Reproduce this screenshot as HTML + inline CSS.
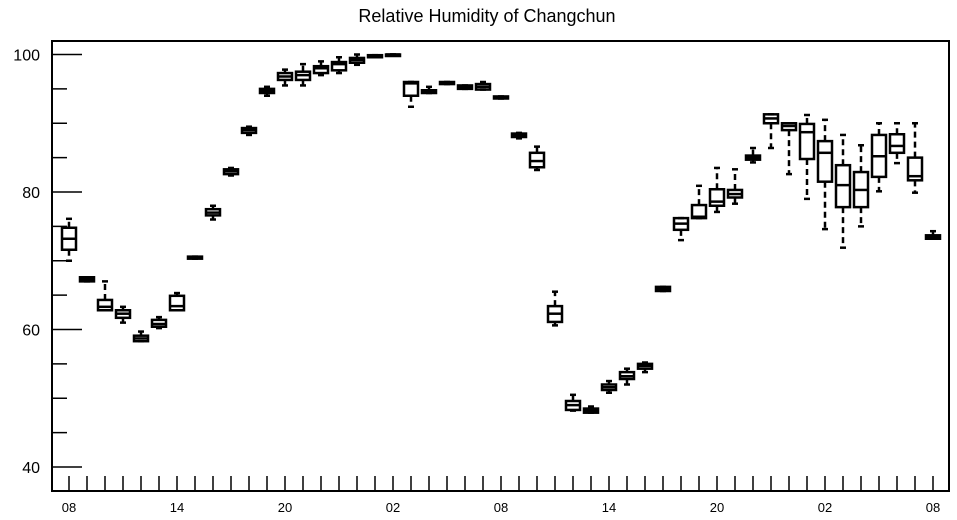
<!DOCTYPE html>
<html><head><meta charset="utf-8"><style>
body{margin:0;background:#fff;}
svg{display:block;font-family:"Liberation Sans",sans-serif;}
</style></head><body>
<svg id="chart" width="957" height="520">
<text x="487" y="22" text-anchor="middle" font-size="18">Relative Humidity of Changchun</text>
<rect x="52" y="41" width="897" height="450" fill="none" stroke="#000" stroke-width="2"/>
<g id="axes"></g><g id="boxes"></g>
</svg>
<script>
const xLabels=["08","14","20","02","08","14","20","02","08"];
const yTicks=[40,60,80,100];
const lo =[70,67,62.8,61,58.3,60.2,62.8,70.3,76,82.4,88.3,94,95.5,95.5,97,97.3,98.5,99.6,100,92.4,94.4,95.7,95,94.9,93.6,87.8,83.2,60.6,48.2,47.9,50.8,52,53.8,65.6,73,76.2,77.1,78.3,84.3,86.4,82.6,79,74.6,71.9,75,80.1,84.2,79.9,73.2];
const q1 =[71.6,67,62.8,61.7,58.3,60.4,62.8,70.3,76.6,82.6,88.6,94.4,96.3,96.3,97.3,97.7,98.8,99.6,100,94,94.4,95.7,95,94.9,93.6,88,83.6,61.1,48.3,47.9,51.2,52.8,54.3,65.6,74.5,76.2,78,79.2,84.7,90,89,84.8,81.5,77.8,77.8,82.2,85.7,81.7,73.2];
const med=[73.2,67.3,63.3,62.3,58.7,60.8,63.4,70.5,77,83,89,94.7,96.8,97,98,98.6,99.2,99.8,100,95.8,94.6,95.8,95.2,95.3,93.7,88.2,84.5,62.3,49,48.2,51.6,53.2,54.7,65.9,75.4,76.4,78.6,79.7,85,90.7,89.6,88.7,85.7,81,80.3,85.2,86.7,82.3,73.5];
const q3 =[74.8,67.6,64.3,62.8,59.1,61.4,64.9,70.6,77.5,83.3,89.3,95,97.3,97.5,98.3,98.9,99.5,99.9,100,96,94.8,96,95.5,95.7,93.9,88.5,85.7,63.4,49.6,48.5,52,53.8,55,66.2,76.2,78.1,80.4,80.3,85.3,91.3,90,89.9,87.4,83.9,82.9,88.3,88.4,85,73.7];
const hi =[76.1,67.6,67,63.3,59.7,61.8,65.3,70.6,78,83.5,89.5,95.3,97.8,98.6,99,99.6,100,99.9,100,96,95.3,96,95.5,96,93.9,88.6,86.6,65.5,50.5,48.8,52.5,54.3,55.2,66.2,76.2,80.9,83.5,83.3,86.4,91.3,90,91.2,90.5,88.3,86.8,90,90,90,74.3];
const X0=52,X1=949,Y0=491,Y1=41;
const xs=i=>69+18*i;
const ys=v=>467-(v-40)*6.875;
const NS="http://www.w3.org/2000/svg";
function mk(tag,attrs,parent){const e=document.createElementNS(NS,tag);for(const k in attrs)e.setAttribute(k,attrs[k]);parent.appendChild(e);return e;}
const ax=document.getElementById('axes');
for(let v=40;v<=100;v+=5){
  const major=v%20===0;
  const t=mk('line',{x1:X0,x2:X0+(major?30:15),y1:ys(v),y2:ys(v),stroke:'#000','stroke-width':1.5},ax);
  
  
}
yTicks.forEach(v=>{
  const t=mk('text',{x:40,y:ys(v)+6,'text-anchor':'end','font-size':16},ax);
  t.textContent=v;
  
  
});
for(let i=0;i<49;i++){
  const t=mk('line',{x1:xs(i),x2:xs(i),y1:476,y2:491,stroke:'#000','stroke-width':1.5},ax);
  
  
}
xLabels.forEach((s,k)=>{
  const t=mk('text',{x:xs(k*6),y:512,'text-anchor':'middle','font-size':13},ax);
  t.textContent=s;
  
  
});
const bx=document.getElementById('boxes');
med.forEach((m,i)=>{
  const g=mk('g',{},bx);
  
  
  const x=xs(i),st={stroke:'#000','stroke-width':2.5,fill:'none'};
  mk('line',Object.assign({x1:x,x2:x,y1:ys(q3[i]),y2:ys(hi[i]),'stroke-dasharray':'6,4'},st),g);
  mk('line',Object.assign({x1:x,x2:x,y1:ys(q1[i]),y2:ys(lo[i]),'stroke-dasharray':'6,4'},st),g);
  mk('line',Object.assign({x1:x-3,x2:x+3,y1:ys(hi[i]),y2:ys(hi[i])},st),g);
  mk('line',Object.assign({x1:x-3,x2:x+3,y1:ys(lo[i]),y2:ys(lo[i])},st),g);
  const top=ys(q3[i]),bot=ys(q1[i]);
  mk('rect',Object.assign({x:x-7,y:top,width:14,height:Math.max(bot-top,1.5),fill:'#fff'},st),g);
  mk('line',Object.assign({x1:x-7,x2:x+7,y1:ys(m),y2:ys(m)},st),g);
});
</script>
</body></html>
